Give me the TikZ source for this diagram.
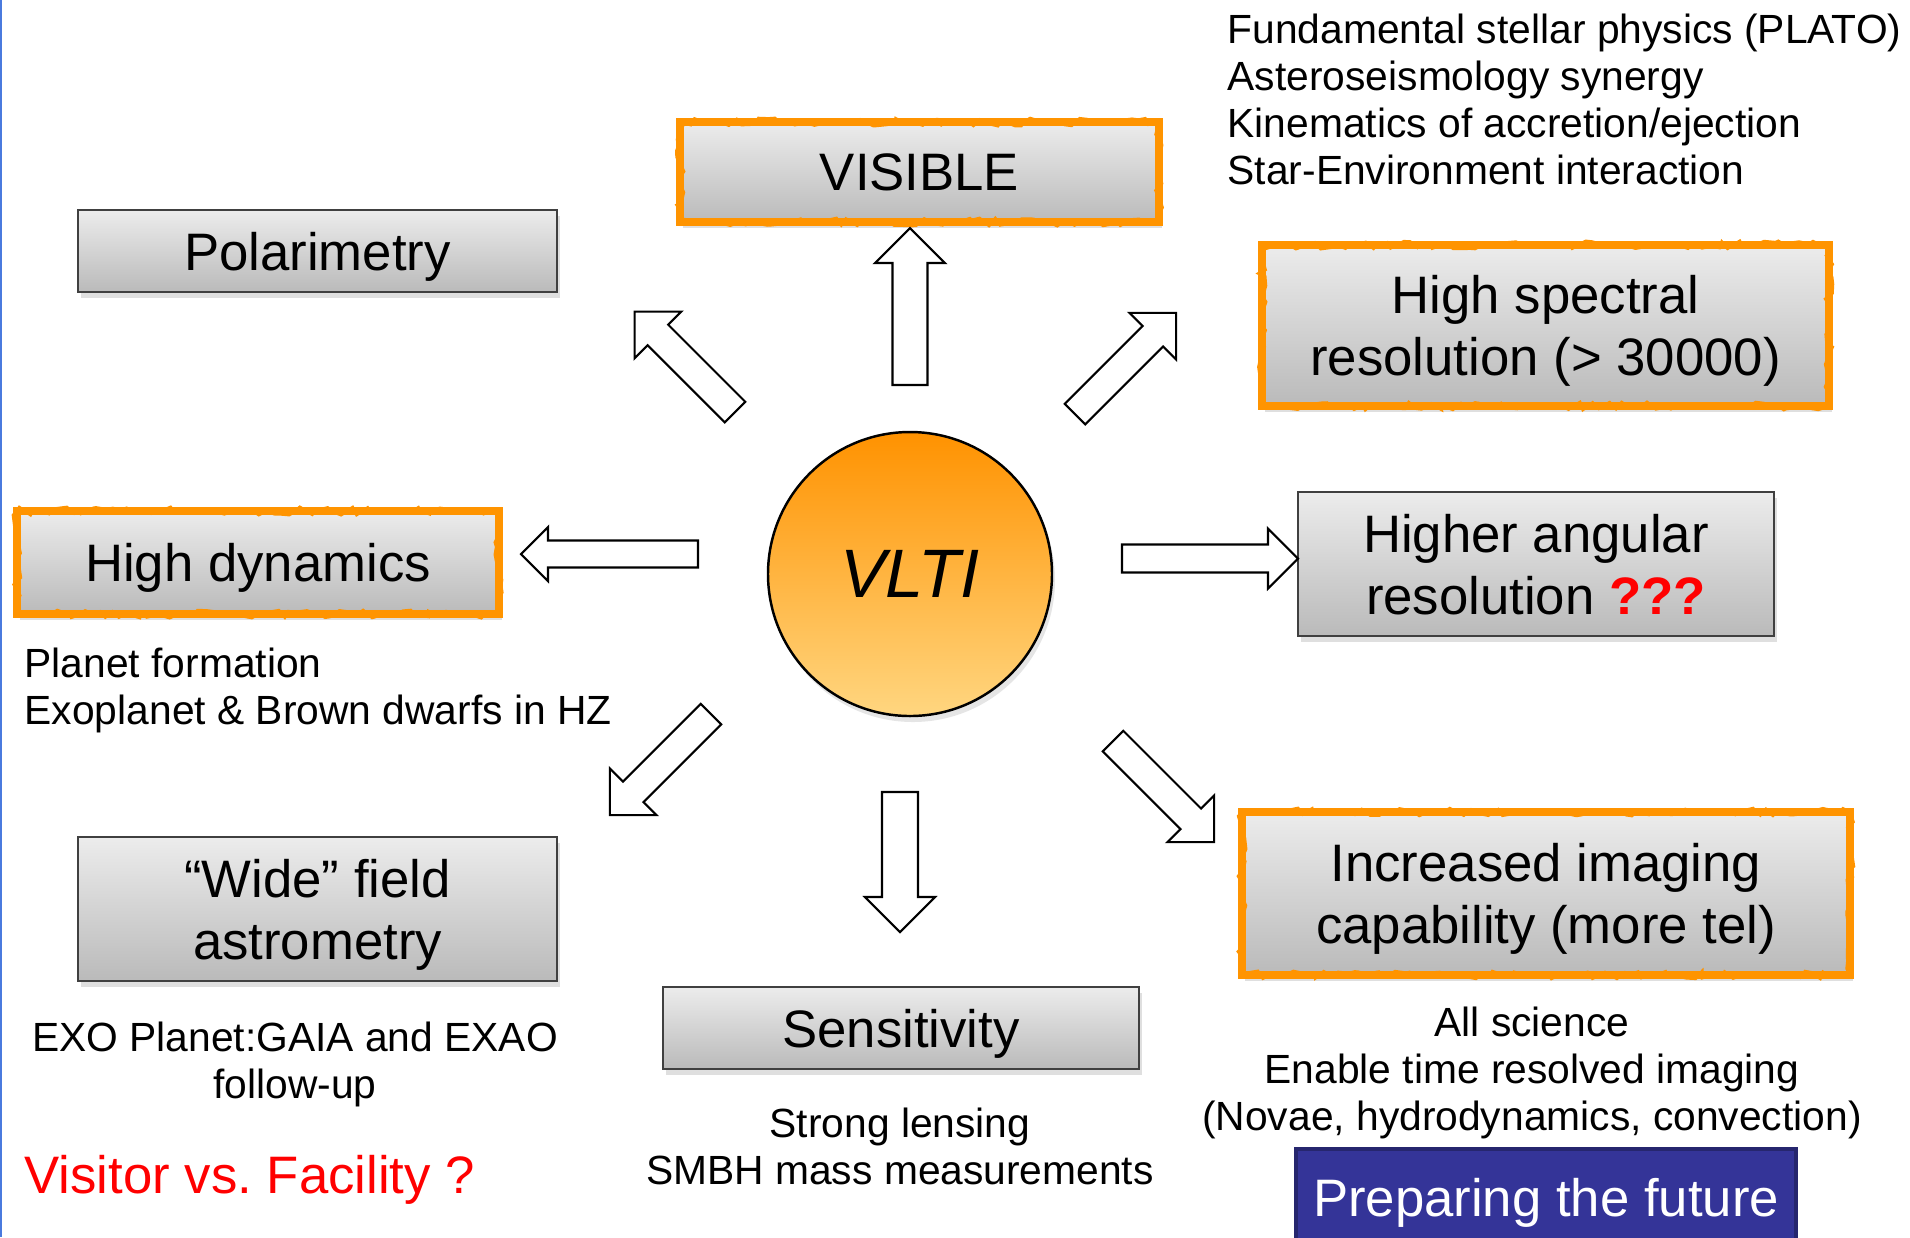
\documentclass[tikz,border=0pt]{standalone}
\usepackage{fontspec}
\setmainfont{Liberation Sans}
\usetikzlibrary{shadows, decorations.pathmorphing, positioning}

\definecolor{brushorange}{RGB}{255,148,0}
\definecolor{vltitop}{RGB}{255,146,0}
\definecolor{vltibottom}{RGB}{255,214,128}
\definecolor{boxtop}{RGB}{236,236,236}
\definecolor{boxbottom}{RGB}{186,186,186}
\definecolor{futureblue}{RGB}{52,52,152}
\definecolor{futureedge}{RGB}{38,38,110}
\definecolor{edgeblue}{RGB}{74,122,222}

\tikzset{
  bigtext/.style={font=\fontsize{15}{17.6}\selectfont},
  smalltext/.style={font=\fontsize{11.6}{13.4}\selectfont, inner sep=0pt},
  greybox/.style={draw=black!75, line width=0.5pt, top color=boxtop, bottom color=boxbottom,
    drop shadow={opacity=0.25, shadow xshift=0.3mm, shadow yshift=-0.6mm},
    align=center, bigtext, inner sep=0pt, text depth=0pt},
  orangebox/.style={greybox, draw=brushorange, line width=2.4pt,
    postaction={draw=brushorange, line width=0.9pt, decorate,
      decoration={random steps, segment length=2pt, amplitude=1.1pt}}},
  arrowline/.style={draw=black, fill=white, line width=0.6pt, line join=miter},
  % block arrow along +x: length / half shaft / half head
  pics/blockarrow/.style args={#1/#2/#3}{code={
    \draw[arrowline] (0,-#2) -- (#1-#3,-#2) -- (#1-#3,-#3) -- (#1,0)
      -- (#1-#3,#3) -- (#1-#3,#2) -- (0,#2) -- cycle;
  }}
}

\begin{document}
\begin{tikzpicture}

  \useasboundingbox (0,0) rectangle (19.10,-12.37);
  \fill[white] (0,0) rectangle (19.10,-12.37);
  \draw[edgeblue, line width=0.025cm] (0.0125,0) -- (0.0125,-12.37);

  % Centre circle
  \node[circle, draw=black, line width=0.7pt, minimum size=2.84cm,
        top color=vltitop, middle color=vltitop, bottom color=vltibottom,
        drop shadow={opacity=0.2, shadow xshift=0.3mm, shadow yshift=-0.6mm},
        font=\fontsize{19.5}{22}\selectfont\itshape] (vlti) at (9.10,-5.74) {VLTI};

  % Boxes
  \node[orangebox, minimum width=4.79cm, minimum height=1.00cm] (visible) at (9.195,-1.72) {VISIBLE};
  \node[greybox, minimum width=4.79cm, minimum height=0.82cm] (polar) at (3.175,-2.51) {Polarimetry};
  \node[orangebox, minimum width=5.67cm, minimum height=1.61cm] (spectral) at (15.455,-3.255) {High spectral\\resolution (> 30000)};
  \node[orangebox, minimum width=4.82cm, minimum height=1.03cm] (dynamics) at (2.58,-5.625) {High dynamics};
  \node[greybox, minimum width=4.76cm, minimum height=1.44cm] (angular) at (15.36,-5.64) {Higher angular\\resolution \textcolor{red}{\bfseries ???}};
  \node[greybox, minimum width=4.79cm, minimum height=1.44cm] (astrometry) at (3.175,-9.09) {“Wide” field\\astrometry};
  \node[greybox, minimum width=4.76cm, minimum height=0.82cm] (sensitivity) at (9.01,-10.28) {Sensitivity};
  \node[orangebox, minimum width=6.08cm, minimum height=1.63cm] (imaging) at (15.46,-8.935) {Increased imaging\\capability (more tel)};
  \node[draw=futureedge, line width=1pt, fill=futureblue, text=white, bigtext, text depth=0pt,
        minimum width=5.00cm, minimum height=0.96cm] (future) at (15.46,-11.97) {Preparing the future};

  % Science cases
  \node[smalltext, anchor=north west, align=left] (stellar) at (12.27,-0.13)
    {Fundamental stellar physics (PLATO)\\Asteroseismology synergy\\Kinematics of accretion/ejection\\Star-Environment interaction};
  \node[smalltext, anchor=north west, align=left] (planets) at (0.24,-6.47)
    {Planet formation\\Exoplanet \& Brown dwarfs in HZ};
  \node[smalltext, anchor=north, align=center] (exoplanet) at (2.95,-10.21)
    {EXO Planet:GAIA and EXAO\\follow-up};
  \node[smalltext, anchor=north, align=center] (lensing) at (9.00,-11.07)
    {Strong lensing\\SMBH mass measurements};
  \node[smalltext, anchor=north, align=center] (allscience) at (15.32,-10.06)
    {All science\\Enable time resolved imaging\\(Novae, hydrodynamics, convection)};
  \node[bigtext, inner sep=0pt, anchor=north west, text=red] (visitor) at (0.24,-11.55)
    {Visitor vs.\ Facility ?};

  % Arrow tails
  \coordinate (N) at (9.10,-3.85);
  \coordinate (S) at (9.00,-7.92);
  \coordinate (W) at (6.98,-5.54);
  \coordinate (E) at (11.22,-5.585);
  \coordinate (NW) at (7.35,-4.12);
  \coordinate (NE) at (10.75,-4.14);
  \coordinate (SW) at (7.11,-7.14);
  \coordinate (SE) at (11.13,-7.41);

  % Block arrows
  \pic[rotate=90] at (N) {blockarrow=1.57/0.175/0.35};
  \pic[rotate=-90] at (S) {blockarrow=1.40/0.18/0.35};
  \pic[rotate=180] at (W) {blockarrow=1.77/0.135/0.27};
  \pic at (E) {blockarrow=1.76/0.14/0.30};
  \pic[rotate=135] at (NW) {blockarrow=1.42/0.145/0.33};
  \pic[rotate=45] at (NE) {blockarrow=1.43/0.145/0.33};
  \pic[rotate=225] at (SW) {blockarrow=1.43/0.145/0.33};
  \pic[rotate=-45] at (SE) {blockarrow=1.43/0.145/0.33};

\end{tikzpicture}
\end{document}
